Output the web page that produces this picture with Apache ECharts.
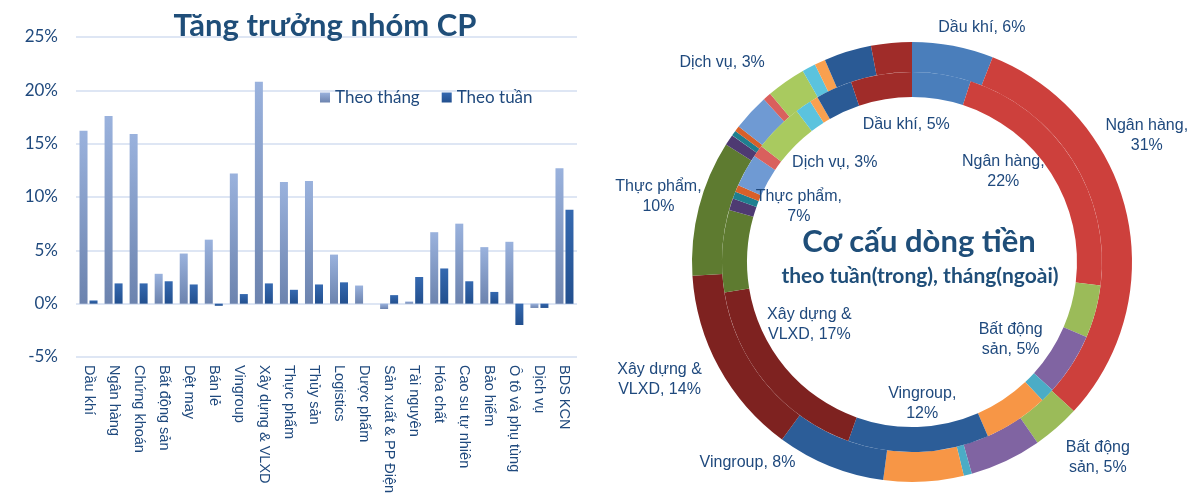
<!DOCTYPE html>
<html>
<head>
<meta charset="utf-8">
<title>Tăng trưởng nhóm CP - Cơ cấu dòng tiền</title>
<script src="https://cdn.jsdelivr.net/npm/echarts@6/dist/echarts.min.js"></script>
<style>
html, body {margin:0; padding:0; background:#fff;}
#main {width:1200px; height:500px;}
</style>
</head>
<body>
<div id="main"></div>
<script>
//nhóm ngành (dùng chung cho biểu đồ cột và biểu đồ vòng)
var categories = ['Dầu khí', 'Ngân hàng', 'Chứng khoán', 'Bất động sản', 'Dệt may', 'Bán lẻ', 'Vingroup',
	'Xây dựng & VLXD', 'Thực phẩm', 'Thủy sản', 'Logistics', 'Dược phẩm', 'Sản xuất & PP Điện', 'Tài nguyên',
	'Hóa chất', 'Cao su tự nhiên', 'Bảo hiểm', 'Ô tô và phụ tùng', 'Dịch vụ', 'BDS KCN'];
var legendNames = ['Theo tháng', 'Theo tuần'];
//tăng trưởng (%)
var monthGrowth = [16.2, 17.6, 15.9, 2.8, 4.7, 6.0, 12.2, 20.8, 11.4, 11.5, 4.6, 1.7, -0.5, 0.2, 6.7, 7.5, 5.3, 5.8, -0.4, 12.7];
var weekGrowth  = [0.3, 1.9, 1.9, 2.1, 1.8, -0.2, 0.9, 1.9, 1.3, 1.8, 2.0, 0, 0.8, 2.5, 3.3, 2.1, 1.1, -2.0, -0.4, 8.8];
var yTicks = [-5, 0, 5, 10, 15, 20, 25];
//cơ cấu dòng tiền (%), vòng ngoài = tháng, vòng trong = tuần
var flowMonth = [6, 31, 3.5, 5.3, 0.6, 5.9, 8, 14, 10, 0.8, 0.4, 0.4, 2.7, 0.6, 2.9, 1.0, 0.8, 0, 3.5, 3.0];
var flowWeek  = [5, 22, 4.5, 5.3, 1.2, 5.5, 12, 17, 7, 1.0, 0.6, 0.6, 2.8, 1.0, 4.2, 1.4, 0.7, 0, 3.1, 5.2];

var sectorColors = ['#4a7ebb', '#cd403c', '#9bbb59', '#8064a2', '#4bacc6', '#f79646', '#2c5d98',
	'#7e2220', '#5e7b30', '#4e3a72', '#1f7f8f', '#d8602a', '#6f9ad3', '#d9605d', '#a9ca5f', '#5bc3de',
	'#f9a04f', '#a08bc2', '#2a5a95', '#a02c29'];
var textColor = '#1f497d';
var titleColor = '#1f4e79';

//nhãn hiển thị
var outerLabelText = {'Dầu khí': 'Dầu khí, {p}%', 'Ngân hàng': 'Ngân hàng,\n{p}%', 'Bất động sản': 'Bất động\nsản, {p}%',
	'Vingroup': 'Vingroup, {p}%', 'Xây dựng & VLXD': 'Xây dựng &\nVLXD, {p}%', 'Thực phẩm': 'Thực phẩm,\n{p}%', 'Dịch vụ': 'Dịch vụ, {p}%'};
var innerLabelText = {'Dầu khí': 'Dầu khí, {p}%', 'Ngân hàng': 'Ngân hàng,\n{p}%', 'Bất động sản': 'Bất động\nsản, {p}%',
	'Vingroup': 'Vingroup,\n{p}%', 'Xây dựng & VLXD': 'Xây dựng &\nVLXD, {p}%', 'Thực phẩm': 'Thực phẩm,\n{p}%', 'Dịch vụ': 'Dịch vụ, {p}%'};
//dịch nhãn ra khỏi vòng
var outerShift = {'Dầu khí': [31, -30], 'Ngân hàng': [32, -80], 'Bất động sản': [97, 8], 'Vingroup': [-87, 8],
	'Xây dựng & VLXD': [-70, 18], 'Thực phẩm': [-52, -14], 'Dịch vụ': [-129, -1]};
var innerShift = {'Dầu khí': [-34, 41], 'Ngân hàng': [-61, 6], 'Bất động sản': [-53, -20], 'Vingroup': [4, -39],
	'Xây dựng & VLXD': [36, -53], 'Thực phẩm': [67, -45], 'Dịch vụ': [-3, 65]};

var makePieData = function(values, labelText) {
	var arr = [];
	for (var i = 0; i < categories.length; i++) {
		arr.push({
			name: categories[i],
			value: values[i],
			itemStyle: {color: sectorColors[i]},
			label: {show: labelText[categories[i]] != undefined}
		});
	}
	return arr;
};
var makeFormatter = function(labelText) {
	return function(p) {
		var t = labelText[p.name];
		return t == undefined ? '' : t.replace('{p}', Math.round(p.percent));
	};
};
var makeLayout = function(shift) {
	return function(p) {
		var s = shift[categories[p.dataIndex]];
		if (s == undefined) return {};
		return {dx: s[0], dy: s[1], align: 'center', verticalAlign: 'middle'};
	};
};
var pieLabel = function(labelText) {
	return {
		position: 'inside',
		color: textColor,
		fontFamily: 'Liberation Sans',
		fontSize: 16,
		lineHeight: 20,
		align: 'center',
		formatter: makeFormatter(labelText)
	};
};

var myChart = echarts.init(document.getElementById('main'), null, {renderer: 'canvas'});
var option = {
	animation: false,
	backgroundColor: '#ffffff',
	title: [
		{text: 'Tăng trưởng nhóm CP', left: 320, top: 5, textAlign: 'center',
			textStyle: {fontFamily: 'Lato', fontWeight: 'bold', fontSize: 31, color: titleColor}},
		{text: 'Cơ cấu dòng tiền', left: 914, top: 221, textAlign: 'center',
			textStyle: {fontFamily: 'Lato', fontWeight: 'bold', fontSize: 31, color: titleColor}},
		{text: 'theo tuần(trong), tháng(ngoài)', left: 915, top: 261, textAlign: 'center',
			textStyle: {fontFamily: 'Lato', fontWeight: 'bold', fontSize: 21, color: titleColor}}
	],
	legend: {
		data: legendNames,
		left: 315, top: 84,
		icon: 'rect', itemWidth: 10, itemHeight: 10, itemGap: 22,
		textStyle: {fontFamily: 'Lato', fontSize: 17, color: textColor}
	},
	grid: {left: 76, top: 37, width: 501, height: 320, containLabel: false},
	xAxis: {
		type: 'category',
		data: categories,
		axisLine: {show: false},
		axisTick: {show: false},
		axisLabel: {interval: 0, rotate: -90, margin: 8, fontFamily: 'Liberation Sans', fontSize: 14.5, color: textColor}
	},
	yAxis: {
		type: 'value',
		min: yTicks[0], max: yTicks[yTicks.length - 1], interval: 5,
		axisLine: {show: false},
		axisTick: {show: false},
		splitLine: {lineStyle: {color: '#d3def0', width: 1.5}},
		axisLabel: {formatter: '{value}%', margin: 18, fontFamily: 'Lato', fontSize: 17, color: textColor}
	},
	series: [
		{name: legendNames[0], type: 'bar', barWidth: 8, barGap: '25%', data: monthGrowth,
			itemStyle: {color: {type: 'linear', x: 0, y: 0, x2: 0, y2: 1,
				colorStops: [{offset: 0, color: '#9ab2dd'}, {offset: 1, color: '#6c83ae'}]}}},
		{name: legendNames[1], type: 'bar', barWidth: 8, data: weekGrowth,
			itemStyle: {color: {type: 'linear', x: 0, y: 0, x2: 0, y2: 1,
				colorStops: [{offset: 0, color: '#3569b0'}, {offset: 1, color: '#224f8e'}]}}},
		{name: 'Tháng', type: 'pie', center: [912, 262], radius: [190, 220], startAngle: 90,
			avoidLabelOverlap: false, silent: true,
			label: pieLabel(outerLabelText), labelLine: {show: false},
			labelLayout: makeLayout(outerShift),
			data: makePieData(flowMonth, outerLabelText)},
		{name: 'Tuần', type: 'pie', center: [912, 262], radius: [165, 190], startAngle: 90,
			avoidLabelOverlap: false, silent: true,
			label: pieLabel(innerLabelText), labelLine: {show: false},
			labelLayout: makeLayout(innerShift),
			data: makePieData(flowWeek, innerLabelText)}
	]
};
myChart.setOption(option);
</script>
</body>
</html>
